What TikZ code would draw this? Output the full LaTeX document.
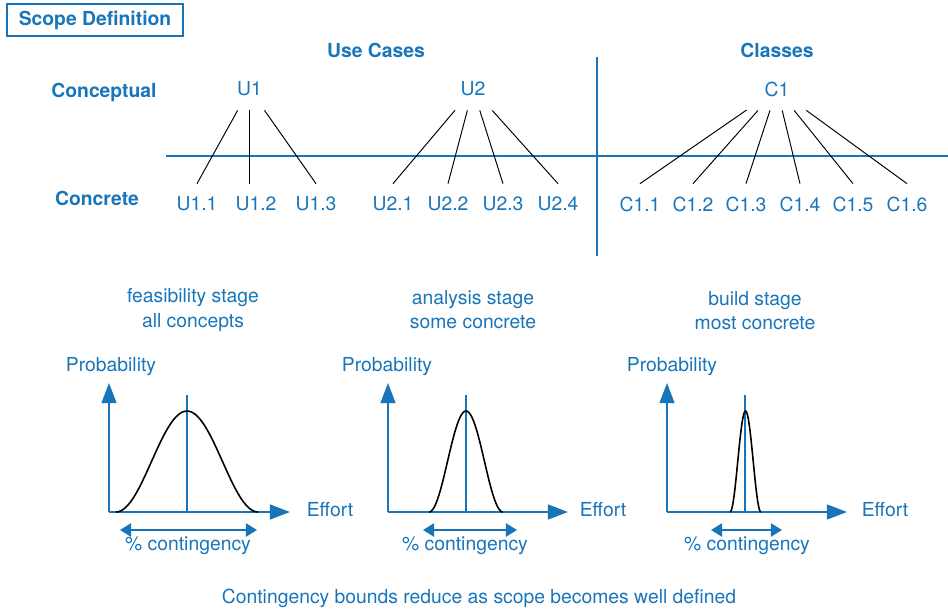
\documentclass[tikz,border=0pt]{standalone}
\usepackage{fontspec}
\setmainfont{TeX Gyre Heros}
\usetikzlibrary{arrows.meta}
\definecolor{scopeblue}{RGB}{24,117,186}

\begin{document}
\begin{tikzpicture}[x=0.02cm, y=-0.02cm,
    font=\fontsize{11}{13.7}\selectfont, text=scopeblue,
    heading/.style={font=\fontsize{11}{13.7}\selectfont\bfseries},
    parent/.style={minimum width=1.2cm, minimum height=0.84cm, inner sep=0pt},
    child/.style={minimum height=0.8cm, inner sep=0pt},
    fan/.style={black, line width=0.55pt},
    divider/.style={scopeblue, line width=1.1pt},
    axis/.style={scopeblue, line width=1.1pt, -{Triangle[length=11.5pt, width=8.5pt]}},
    bound/.style={scopeblue, line width=1.1pt, {Triangle[length=6.3pt, width=7.5pt]}-{Triangle[length=6.3pt, width=7.5pt]}},
    midline/.style={scopeblue, line width=0.8pt},
    bell/.style={black, line width=0.9pt, smooth, samples=60, variable=\t}]
  \useasboundingbox (0,0) rectangle (948,609);

  % Title box
  \node[heading, draw=scopeblue, line width=0.6pt, minimum width=3.52cm, minimum height=0.64cm] (title) at (95,20) {Scope Definition};

  % Headings
  \node[heading] (usecases) at (376,50) {Use Cases};
  \node[heading] (classes) at (777,50) {Classes};
  \node[heading] (conceptual) at (104,92) {Conceptual};
  \node[heading] (concrete) at (97,198) {Concrete};

  % Dividers
  \draw[divider] (166,156) -- (948,156);
  \draw[divider] (597,57) -- (597,256);

  % Conceptual level
  \node[parent] (u1) at (249.5,89) {U1};
  \node[parent] (u2) at (473,89) {U2};
  \node[parent] (c1) at (777,89) {C1};

  % Concrete level
  \node[child] (u11) at (197,204) {U1.1};
  \node[child] (u12) at (256,204) {U1.2};
  \node[child] (u13) at (316,204) {U1.3};
  \node[child] (u21) at (393,204) {U2.1};
  \node[child] (u22) at (448,204) {U2.2};
  \node[child] (u23) at (503,204) {U2.3};
  \node[child] (u24) at (558,204) {U2.4};
  \node[child] (c11) at (640,204) {C1.1};
  \node[child] (c12) at (693,204) {C1.2};
  \node[child] (c13) at (746,204) {C1.3};
  \node[child] (c14) at (800,204) {C1.4};
  \node[child] (c15) at (853,204) {C1.5};
  \node[child] (c16) at (907,204) {C1.6};

  % Fan lines
  \draw[fan] (u1) -- (u11.north);
  \draw[fan] (u1) -- (u1 |- u12.north);
  \draw[fan] (u1) -- (u13.north);
  \draw[fan] (u2) -- (u21.north);
  \draw[fan] (u2) -- (u22.north);
  \draw[fan] (u2) -- (u23.north);
  \draw[fan] (u2) -- (u24.north);
  \draw[fan] (c1) -- (c11.north);
  \draw[fan] (c1) -- (c12.north);
  \draw[fan] (c1) -- (c13.north);
  \draw[fan] (c1) -- (c14.north);
  \draw[fan] (c1) -- (c15.north);
  \draw[fan] (c1) -- (c16.north);

  % Stage labels
  \node[align=center] (feasibility) at (193,310) {feasibility stage\\all concepts};
  \node[align=center] (analysis) at (473,310) {analysis stage\\some concrete};
  \node[align=center] (build) at (755,311) {build stage\\most concrete};

  % Feasibility chart
  \coordinate (o1) at (109,512);
  \coordinate (y1) at (109,383);
  \coordinate (x1) at (290,512);
  \draw[axis] (o1) -- (y1);
  \draw[axis] (o1) -- (x1);
  \draw[midline] (187,395) -- (187,512);
  \draw[bell] plot[domain=-1:1] ({187+71*\t},{512-101*(1+cos(180*\t))/2});
  \node (prob1) at (111,367) {Probability};
  \node (effort1) at (330,510) {Effort};
  \coordinate (b1l) at (120,530);
  \coordinate (b1r) at (257,530);
  \draw[bound] (b1l) -- (b1r);
  \node (cont1) at (188,546) {\% contingency};

  % Analysis chart
  \coordinate (o2) at (388,512);
  \coordinate (y2) at (388,383);
  \coordinate (x2) at (568,512);
  \draw[axis] (o2) -- (y2);
  \draw[axis] (o2) -- (x2);
  \draw[midline] (466,395) -- (466,512);
  \draw[bell] plot[domain=-1:1] ({466+37*\t},{512-101*(1+cos(180*\t))/2});
  \node (prob2) at (387,367) {Probability};
  \node (effort2) at (603,510) {Effort};
  \coordinate (b2l) at (423,530);
  \coordinate (b2r) at (517,530);
  \draw[bound] (b2l) -- (b2r);
  \node (cont2) at (465,546) {\% contingency};

  % Build chart
  \coordinate (o3) at (667,512);
  \coordinate (y3) at (667,383);
  \coordinate (x3) at (847,512);
  \draw[axis] (o3) -- (y3);
  \draw[axis] (o3) -- (x3);
  \draw[midline] (745,395) -- (745,512);
  \draw[bell] plot[domain=-1:1] ({745.5+15.5*\t},{512-101*(1+cos(180*\t))/2});
  \node (prob3) at (672,367) {Probability};
  \node (effort3) at (885,510) {Effort};
  \coordinate (b3l) at (711,530);
  \coordinate (b3r) at (782,530);
  \draw[bound] (b3l) -- (b3r);
  \node (cont3) at (747,546) {\% contingency};

  % Caption
  \node (caption) at (479,598) {Contingency bounds reduce as scope becomes well defined};
\end{tikzpicture}
\end{document}
